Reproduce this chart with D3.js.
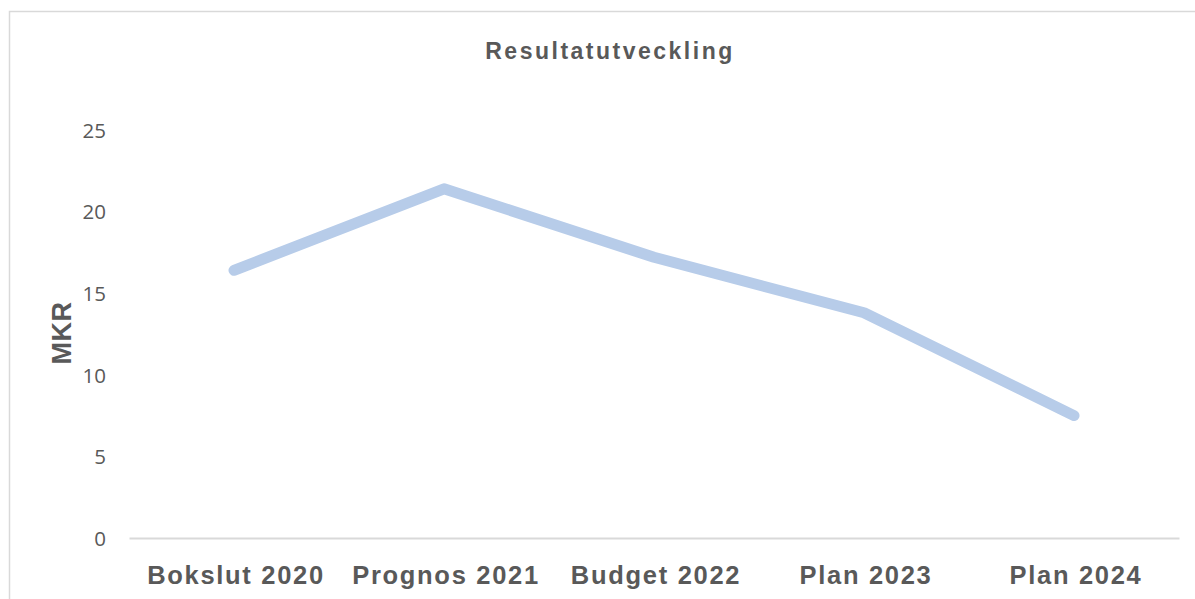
<!DOCTYPE html>
<html><head><meta charset="utf-8">
<script src="https://cdn.jsdelivr.net/npm/d3@7"></script>
<style>body{margin:0;background:#fff;overflow:hidden}svg{display:block}</style>
</head><body>
<script>
const categories = ["Bokslut 2020","Prognos 2021","Budget 2022","Plan 2023","Plan 2024"];
const values = [16.4, 21.4, 17.2, 13.8, 7.5];
const yTicks = [0,5,10,15,20,25];
const title = "Resultatutveckling";
const yTitle = "MKR";

const W=1195,H=599;
const svg=d3.select("body").append("svg").attr("width",W).attr("height",H);
svg.append("rect").attr("x",9.5).attr("y",11.5).attr("width",W+20).attr("height",H+20)
  .attr("fill","#fff").attr("stroke","#d9d9d9").attr("stroke-width",1.5);

const x=d3.scaleBand().domain(categories).range([129,1179]);
const y=d3.scaleLinear().domain([0,25]).range([538,130]);

svg.append("text").attr("x",610).attr("y",59).attr("text-anchor","middle")
  .attr("font-family","Liberation Sans, Arial, sans-serif").attr("font-weight","bold")
  .attr("font-size",23).attr("letter-spacing",2.5).attr("fill","#595959").text(title);

const ga=svg.append("g").attr("transform","translate(0,538)")
  .call(d3.axisBottom(x).tickSize(0).tickPadding(0));
ga.select(".domain").attr("stroke","#d9d9d9").attr("stroke-width",2);
ga.selectAll("text").attr("font-family","Liberation Sans, Arial, sans-serif")
  .attr("font-weight","bold").attr("font-size",25.5).attr("letter-spacing",1.7)
  .attr("fill","#595959").attr("dy",null).attr("y",46).attr("dx",2);

const gy=svg.append("g").attr("transform","translate(106,0)")
  .call(d3.axisLeft(y).tickValues(yTicks).tickSize(0).tickPadding(0));
gy.select(".domain").remove();
gy.selectAll("text").attr("font-family","Open Sans, sans-serif")
  .attr("font-size",20.5).attr("fill","#595959").attr("dy","0.36em");

svg.append("text").attr("transform","translate(71,333) rotate(-90)").attr("text-anchor","middle")
  .attr("font-family","Liberation Sans, Arial, sans-serif").attr("font-weight","bold")
  .attr("font-size",27).attr("letter-spacing",0.5).attr("fill","#595959").text(yTitle);

const line=d3.line().x((d,i)=>x(categories[i])+x.bandwidth()/2).y(d=>y(d));
svg.append("path").datum(values).attr("d",line).attr("fill","none")
  .attr("stroke","#b7cce9").attr("stroke-width",11).attr("stroke-linecap","round").attr("stroke-linejoin","round");
</script>
</body></html>
